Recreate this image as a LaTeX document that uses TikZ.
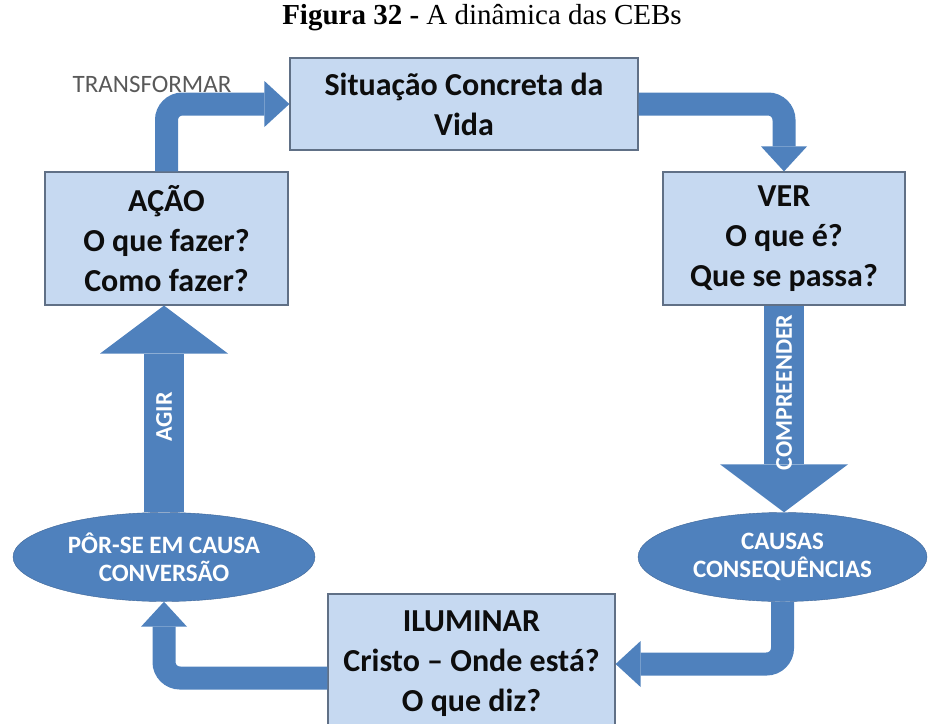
\documentclass[tikz,border=0pt]{standalone}
\usepackage{fontspec}
\setmainfont{Liberation Serif}
\newfontfamily\calib{Carlito}
\usepackage{xcolor}
\usetikzlibrary{shapes.geometric,arrows.meta}
\definecolor{boxblue}{RGB}{198,217,241}
\definecolor{boxline}{RGB}{96,112,134}
\definecolor{arrowblue}{RGB}{79,129,189}
\definecolor{elline}{RGB}{60,100,150}

\begin{document}
\begin{tikzpicture}[
  x=1pt, y=-1pt,
  box/.style={rectangle, draw=boxline, fill=boxblue, line width=1.2pt, align=center, text=black!95, font=\calib\bfseries\fontsize{32}{40}\selectfont},
  ell/.style={ellipse, draw=elline, fill=arrowblue, inner sep=0pt, align=center, text=white, font=\calib\bfseries\fontsize{25}{28}\selectfont},
  bentarr/.style={draw=arrowblue, line width=23pt, rounded corners=16pt, -{Triangle[width=46pt,length=25pt,line width=0pt]}},
  fatarr/.style={draw=arrowblue, line width=40pt, -{Triangle[width=128pt,length=48pt,line width=0pt]}},
  vlbl/.style={rotate=90, text=white, font=\calib\bfseries\fontsize{24}{24}\selectfont}
]
\useasboundingbox (0,0) rectangle (928,723);
\clip (0,0) rectangle (928,723);

\node[font=\fontsize{29}{32}\selectfont] (titulo) at (482,18) {\textbf{Figura 32 -} A dinâmica das CEBs};

\node[box, minimum width=348pt, minimum height=92pt]  (sit)    at (464,104)    {Situação Concreta da\\Vida};
\node[box, minimum width=243pt, minimum height=133pt] (acao)   at (166.5,238.5) {AÇÃO\\O que fazer?\\Como fazer?};
\node[box, minimum width=242pt, minimum height=133pt] (ver)    at (784,238.5)  {VER\\O que é?\\Que se passa?};
\node[box, minimum width=287pt, minimum height=140pt] (ilum)   at (471.5,664)  {ILUMINAR\\Cristo – Onde está?\\O que diz?};
\node[ell, minimum width=302pt, minimum height=89pt]  (conv)   at (164,557)    {PÔR-SE EM CAUSA\\CONVERSÃO};
\node[ell, minimum width=289pt, minimum height=89pt]  (causas) at (782.5,557)  {CAUSAS\\CONSEQUÊNCIAS};
\node[text=black!65, font=\calib\fontsize{25}{25}\selectfont] (trans) at (152,84) {TRANSFORMAR};

\draw[bentarr] (acao.north) |- (sit.west);
\draw[bentarr] (sit.east) -| (ver.north);
\draw[fatarr]  (ver.south) -- node[vlbl, pos=0.42] {COMPREENDER} (ver.south |- causas.north);
\draw[bentarr] (causas.south) |- (ilum.east);
\draw[bentarr] ([yshift=-14pt]ilum.west) -| (conv.south);
\draw[fatarr]  (conv.north) -- node[vlbl, pos=0.46] {AGIR} (conv.north |- acao.south);
\end{tikzpicture}
\end{document}
